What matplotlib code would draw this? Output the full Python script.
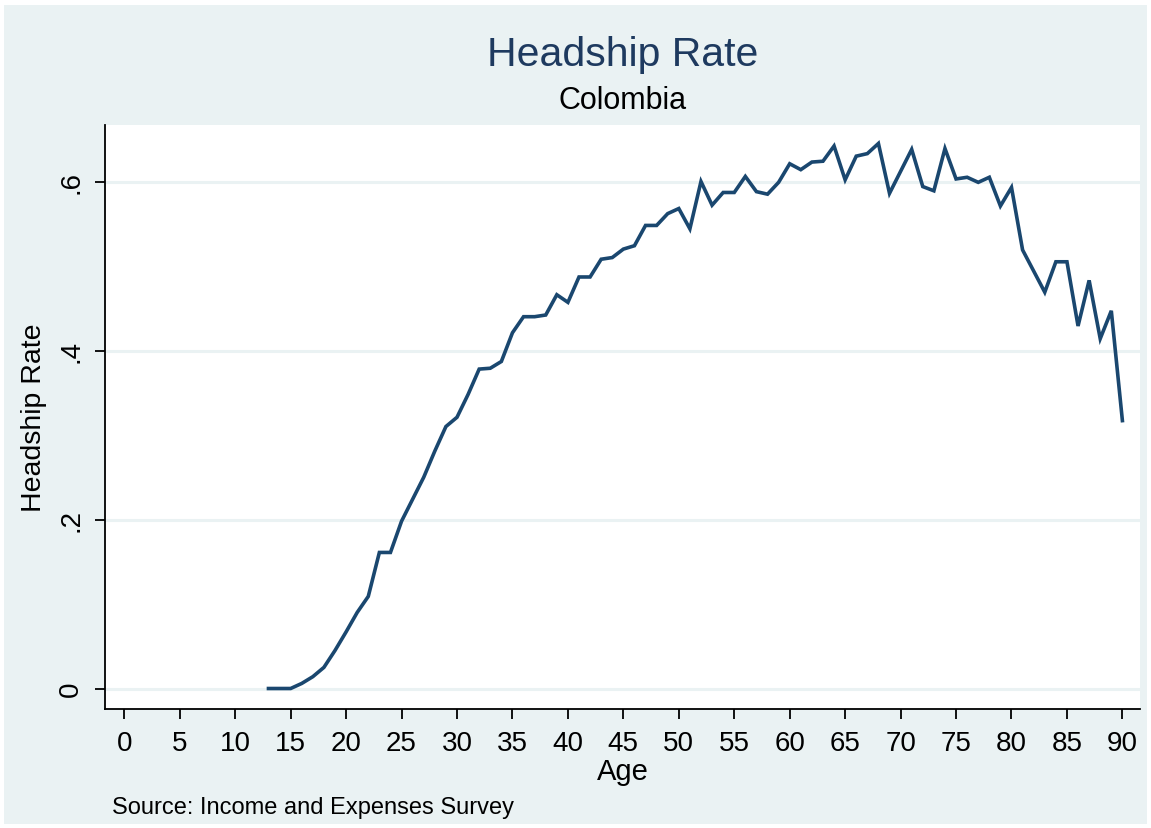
import matplotlib
matplotlib.use("Agg")
import matplotlib.pyplot as plt
from matplotlib.patches import Rectangle

ages = list(range(13, 91))
rates = [0.0, 0.0, 0.0, 0.006, 0.014, 0.025, 0.045, 0.067, 0.090, 0.109,
         0.161, 0.161, 0.198, 0.224, 0.250, 0.281, 0.310, 0.321, 0.348, 0.378,
         0.379, 0.387, 0.421, 0.440, 0.440, 0.442, 0.466, 0.457, 0.487, 0.487,
         0.508, 0.510, 0.520, 0.524, 0.548, 0.548, 0.562, 0.568, 0.544, 0.600,
         0.572, 0.587, 0.587, 0.606, 0.588, 0.585, 0.599, 0.621, 0.614, 0.623,
         0.624, 0.642, 0.602, 0.630, 0.633, 0.645, 0.586, 0.612, 0.638, 0.594,
         0.589, 0.639, 0.603, 0.605, 0.599, 0.605, 0.571, 0.593, 0.519, 0.494,
         0.469, 0.505, 0.505, 0.429, 0.483, 0.414, 0.447, 0.317]

xticks = list(range(0, 91, 5))
yticks = [0, 0.2, 0.4, 0.6]
ytick_labels = ["0", ".2", ".4", ".6"]

title = "Headship Rate"
subtitle = "Colombia"
xlabel = "Age"
ylabel = "Headship Rate"
note = "Source: Income and Expenses Survey"

plt.rcParams['font.family'] = ['Liberation Sans', 'DejaVu Sans']

W, H = 1151, 829
fig = plt.figure(figsize=(W / 100, H / 100), dpi=100, facecolor="white")
bg = "#EAF2F3"
fig.patches.append(Rectangle((4 / W, 4 / H), 1 - 8 / W, 1 - 10 / H,
                             transform=fig.transFigure, facecolor=bg,
                             edgecolor="none", zorder=-10))

left, right, top, bottom = 105, 1140, 126, 710
ax = fig.add_axes([left / W, 1 - bottom / H, (right - left) / W, (bottom - top) / H])
ax.set_facecolor("white")

ax.plot(ages, rates, color="#1a476f", linewidth=2.6, solid_joinstyle="miter")

# axis limits from pixel calibration
x0px, pxyr = 124.3, 11.09
ax.set_xlim((left - x0px) / pxyr, (right - x0px) / pxyr)
y0px, pxunit = 689.5, 845.0
ax.set_ylim((y0px - bottom) / pxunit, (y0px - top) / pxunit)

ax.set_xticks(xticks)
ax.set_xticklabels([str(t) for t in xticks], fontsize=20)
ax.set_yticks(yticks)
ax.set_yticklabels(ytick_labels, fontsize=20, rotation=90, va="center")

for y in yticks:
    ax.axhline(y, color=bg, linewidth=2.2, zorder=0)

for s in ["top", "right"]:
    ax.spines[s].set_visible(False)
for s in ["left", "bottom"]:
    ax.spines[s].set_color("black")
    ax.spines[s].set_linewidth(1.3)
ax.tick_params(axis="both", direction="out", length=7, width=1.3, color="black",
               pad=8)

ax.set_xlabel(xlabel, fontsize=21, labelpad=1)
ax.set_ylabel(ylabel, fontsize=20.5, labelpad=8)

cx = (left + right) / 2 / W
fig.text(cx, 1 - 55 / H, title, ha="center", va="center", fontsize=29.5, color="#1e3a5f")
fig.text(cx, 1 - 101 / H, subtitle, ha="center", va="center", fontsize=22, color="black")
fig.text(112 / W, 1 - 808 / H, note, ha="left", va="center", fontsize=17, color="black")

fig.savefig("out.png", dpi=100, facecolor=fig.get_facecolor())
